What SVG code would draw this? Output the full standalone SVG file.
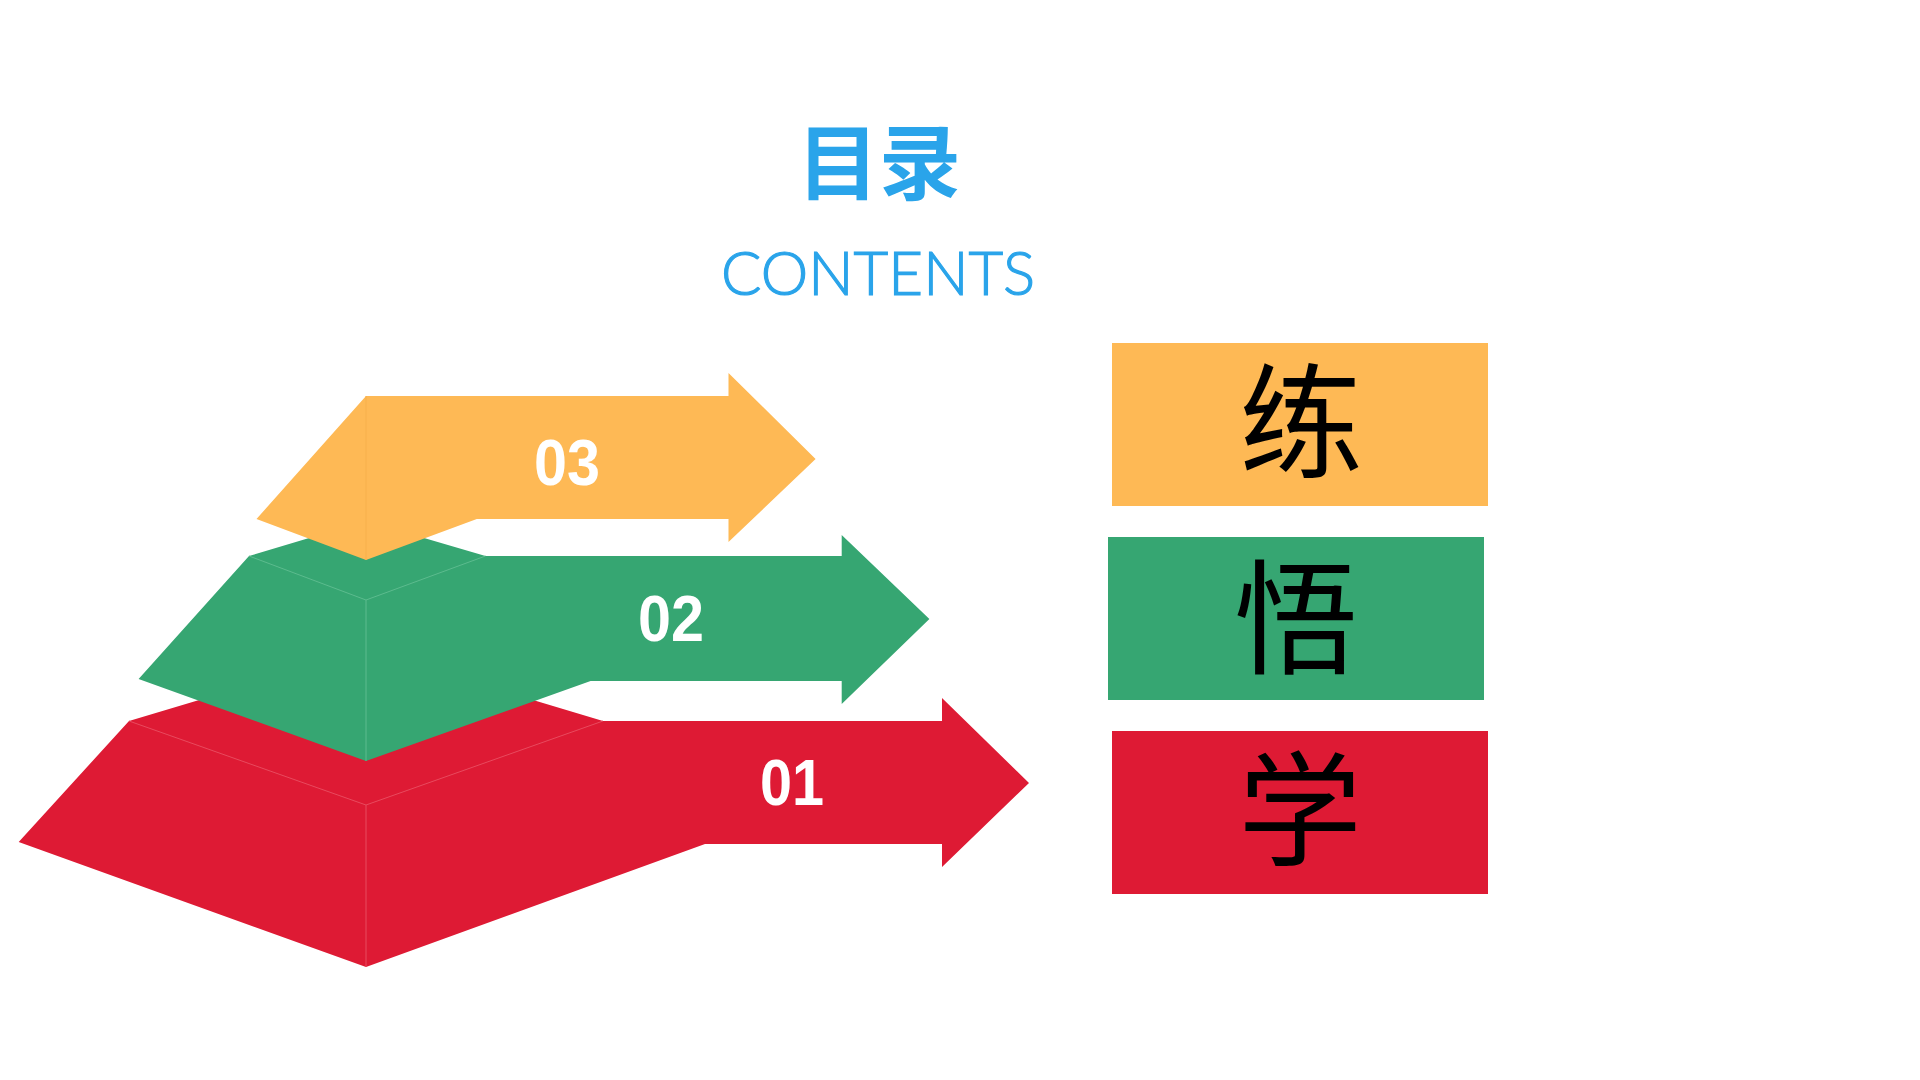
<svg xmlns="http://www.w3.org/2000/svg" width="1920" height="1080" viewBox="0 0 1920 1080">
<style>
.num{font-family:"Liberation Sans",Arial,sans-serif;font-weight:bold;font-size:64px;fill:#ffffff;text-anchor:middle}
.cjk{font-family:"Noto Sans CJK SC","Noto Sans CJK JP",sans-serif;font-size:124px;fill:#000000;text-anchor:middle}
.edge{fill:none;stroke-width:1}
</style>
<rect width="1920" height="1080" fill="#ffffff"/>
<g id="title">
<text x="879" y="193" font-family="Noto Sans CJK SC, Noto Sans CJK JP, sans-serif" font-weight="bold" font-size="82" fill="#2AA4EA" text-anchor="middle">目录</text>
<text x="878" y="295" font-family="Lato, Liberation Sans, sans-serif" font-weight="300" font-size="61" fill="#2AA4EA" stroke="#2AA4EA" stroke-width="1.2" text-anchor="middle" textLength="314" lengthAdjust="spacingAndGlyphs">CONTENTS</text>
</g>
<g id="layer-01">
<polygon points="18.7,842 129,721 366,650 603,721 942,721 942,698 1029,783 942,867 942,844 705,844 366,967" fill="#DE1A34"/>
<polyline class="edge" stroke="#E84A5E" points="129,721 366,805 603,721"/>
<line class="edge" stroke="#E84A5E" x1="366" y1="805" x2="366" y2="967"/>
<text class="num" x="792" y="805" textLength="64" lengthAdjust="spacingAndGlyphs">01</text>
</g>
<g id="layer-02">
<polygon points="138.6,679 249,556 366,521 485.5,556 841.7,556 841.7,535 929.4,619 841.7,704 841.7,681 590.6,681 366,761" fill="#36A672"/>
<polyline class="edge" stroke="#5CBB8E" points="249,556 366,600 485.5,556"/>
<line class="edge" stroke="#5CBB8E" x1="366" y1="600" x2="366" y2="761"/>
<text class="num" x="671" y="641" textLength="66" lengthAdjust="spacingAndGlyphs">02</text>
</g>
<g id="layer-03">
<polygon points="256.5,519 366,396 728.5,396 728.5,373 815.6,459 728.5,542 728.5,519 476.8,519 366,560" fill="#FEB955"/>
<line class="edge" stroke="#F7B04C" x1="366" y1="396" x2="366" y2="560"/>
<text class="num" x="567" y="485" textLength="66" lengthAdjust="spacingAndGlyphs">03</text>
</g>
<g id="box-lian">
<rect x="1112" y="343" width="376" height="163" fill="#FEB955"/>
<text class="cjk" x="1301" y="468">练</text>
</g>
<g id="box-wu">
<rect x="1108" y="537" width="376" height="163" fill="#36A672"/>
<text class="cjk" x="1296" y="664">悟</text>
</g>
<g id="box-xue">
<rect x="1112" y="731" width="376" height="163" fill="#DE1A34"/>
<text class="cjk" x="1300" y="856">学</text>
</g>
</svg>
